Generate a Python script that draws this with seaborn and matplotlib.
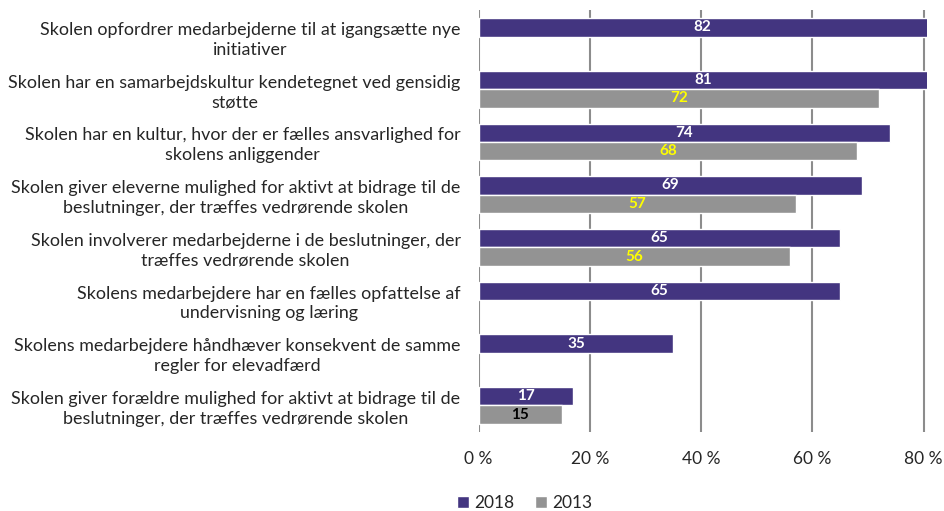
import pandas as pd
import seaborn as sns
import matplotlib.pyplot as plt
import numpy as np

categories = [
    "Skolen opfordrer medarbejderne til at igangsætte nye\ninitiativer",
    "Skolen har en samarbejdskultur kendetegnet ved gensidig\nstøtte",
    "Skolen har en kultur, hvor der er fælles ansvarlighed for\nskolens anliggender",
    "Skolen giver eleverne mulighed for aktivt at bidrage til de\nbeslutninger, der træffes vedrørende skolen",
    "Skolen involverer medarbejderne i de beslutninger, der\ntræffes vedrørende skolen",
    "Skolens medarbejdere har en fælles opfattelse af\nundervisning og læring",
    "Skolens medarbejdere håndhæver konsekvent de samme\nregler for elevadfærd",
    "Skolen giver forældre mulighed for aktivt at bidrage til de\nbeslutninger, der træffes vedrørende skolen",
]
values_2018 = [82, 81, 74, 69, 65, 65, 35, 17]
values_2013 = [np.nan, 72, 68, 57, 56, np.nan, np.nan, 15]
years = ["2018", "2013"]
label_colors_2013 = ["#ffff00", "#ffff00", "#ffff00", "#ffff00", "#000000"]

df = pd.DataFrame({
    "kategori": categories * 2,
    "andel": values_2018 + values_2013,
    "år": ["2018"] * len(categories) + ["2013"] * len(categories),
}).dropna()

sns.set_style("white")
plt.rcParams['font.family'] = ['Lato', 'DejaVu Sans']

fig = plt.figure(figsize=(9.44, 5.11), dpi=100)
ax = fig.add_axes([0.507, 0.155, 0.475, 0.825])

sns.barplot(data=df, x="andel", y="kategori", hue="år", order=categories,
            hue_order=years, palette=["#433580", "#939393"], width=0.7,
            saturation=1, orient="h", ax=ax, zorder=3)

xmax = 80.6
ax.set_xlim(0, xmax)
ax.set_ylim(len(categories) - 0.5, -0.5)
ax.set_xticks([0, 20, 40, 60, 80])
ax.set_xticklabels(["0 %", "20 %", "40 %", "60 %", "80 %"], fontsize=12.5)
ax.tick_params(axis="y", labelsize=12.9, length=0, pad=13)
ax.tick_params(axis="x", length=0, pad=14)
for lbl in ax.get_yticklabels():
    lbl.set_multialignment("center")
    lbl.set_linespacing(1.3)
ax.set_xlabel("")
ax.set_ylabel("")
ax.xaxis.grid(True, color="#8c8c8c", linewidth=1.5, zorder=0)
for s in ax.spines.values():
    s.set_visible(False)

# verdier inde i søjlerne
for i, cont in enumerate(ax.containers):
    for j, bar in enumerate(cont):
        w = bar.get_width()
        if np.isnan(w):
            continue
        color = "white" if i == 0 else label_colors_2013[j]
        ax.text(min(w, xmax) / 2, bar.get_y() + bar.get_height() / 2, f"{w:.0f}",
                ha="center", va="center", color=color, fontsize=11,
                fontweight="bold", zorder=4)

handles, labels = ax.get_legend_handles_labels()
ax.get_legend().remove()
fig.legend(handles, labels, loc="center", bbox_to_anchor=(0.556, 0.016), ncol=2,
           frameon=False, fontsize=12.5, handlelength=0.7, handleheight=0.7,
           handletextpad=0.3, columnspacing=1.2, borderaxespad=0, borderpad=0)

plt.savefig("out.png", dpi=100)
